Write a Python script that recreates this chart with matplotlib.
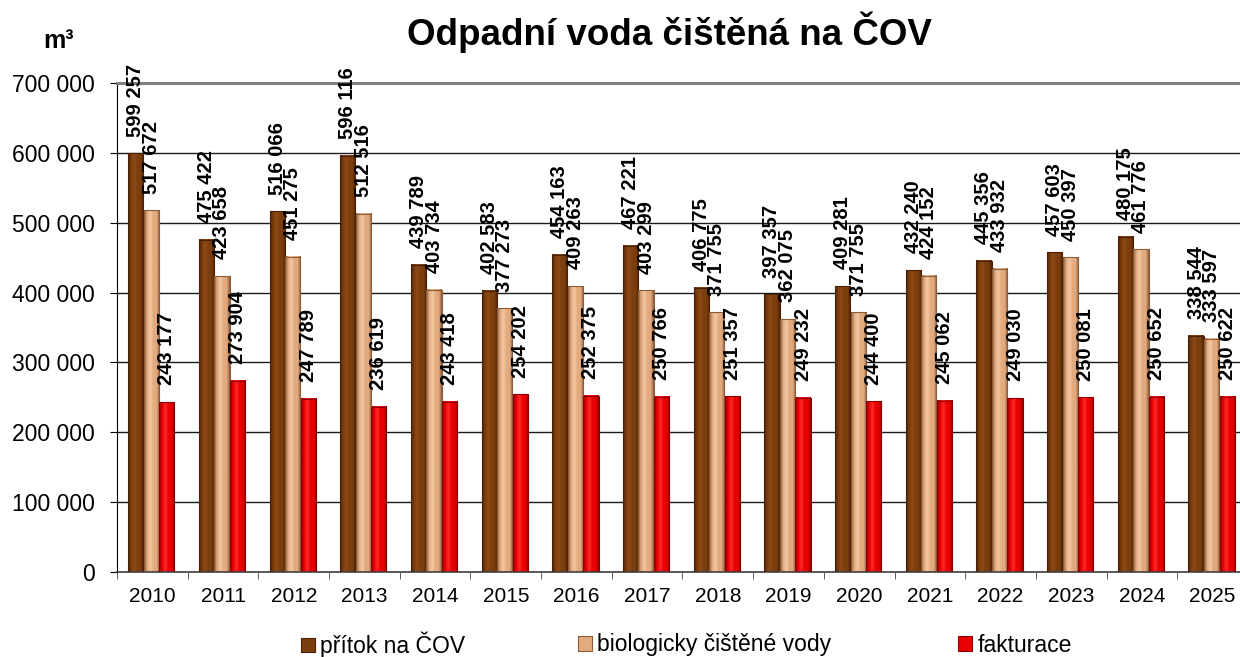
import numpy as np
import matplotlib
matplotlib.use('Agg')
import matplotlib.pyplot as plt
from matplotlib.colors import LinearSegmentedColormap
from matplotlib.patches import Patch

plt.rcParams['font.family'] = ['Liberation Sans', 'DejaVu Sans']

years = [str(y) for y in range(2010, 2026)]
pritok = [599257, 475422, 516066, 596116, 439789, 402583, 454163, 467221,
          406775, 397357, 409281, 432240, 445356, 457603, 480175, 338544]
bio = [517672, 423658, 451275, 512516, 403734, 377273, 409263, 403299,
       371755, 362075, 371755, 424152, 433932, 450397, 461776, 333597]
fakt = [243177, 273904, 247789, 236619, 243418, 254202, 252375, 250766,
        251357, 249232, 244400, 245062, 249030, 250081, 250652, 250622]
series_names = ['přítok na ČOV', 'biologicky čištěné vody', 'fakturace']
yticks = [0, 100000, 200000, 300000, 400000, 500000, 600000, 700000]

# colours: (dark edge, main, light)
styles = [
    ('#4a2006', '#7b3e0e', '#8e4a16'),
    ('#8a5c3a', '#e2aa7e', '#f3c9a2'),
    ('#8c0000', '#e80000', '#ff2a2a'),
]

def fmt(v):
    return f"{v:,}".replace(',', ' ')

fig = plt.figure(figsize=(12.4, 6.57), dpi=100)
ax = fig.add_axes([117 / 1240, 85 / 657, 1131 / 1240, 489 / 657])

x = np.arange(len(years))
width = 0.215
offsets = [-0.235, -0.015, 0.205]
data = [pritok, bio, fakt]

grad = np.linspace(0, 1, 128).reshape(1, -1)
for vals, off, (dk, mn, lt) in zip(data, offsets, styles):
    bars = ax.bar(x + off, vals, width, color=mn, edgecolor=dk, linewidth=0.8, zorder=2)
    cmap = LinearSegmentedColormap.from_list('g', [dk, mn, lt, mn, mn, dk])
    for b in bars:
        x0, w, h = b.get_x(), b.get_width(), b.get_height()
        ax.imshow(grad, cmap=cmap, extent=(x0, x0 + w, 0, h), aspect='auto',
                  interpolation='bilinear', zorder=2.5)
        b.set_facecolor('none')
        b.set_zorder(3)
    for b, v in zip(bars, vals):
        ax.annotate(fmt(v), xy=(b.get_x() + b.get_width() / 2, b.get_height()),
                    xytext=(0, 12), textcoords='offset points', rotation=90,
                    ha='center', va='bottom', fontsize=14.5, fontweight='bold',
                    color='black', zorder=4, annotation_clip=False)

ax.set_xlim(-0.5, len(years) - 0.5)
ax.set_ylim(0, 700000)
ax.set_yticks(yticks)
ax.set_yticklabels([fmt(v) for v in yticks], fontsize=16.5)
ax.set_xticks(x)
ax.set_xticklabels(years, fontsize=15)
ax.set_xticks(np.arange(len(years) + 1) - 0.5, minor=True)
ax.tick_params(axis='x', which='major', length=0, pad=11)
ax.tick_params(axis='x', which='minor', length=5, direction='out', color='#404040')
ax.tick_params(axis='y', length=5, direction='out', pad=11, color='black')

ax.set_axisbelow(True)
ax.yaxis.grid(True, color='#1a1a1a', linewidth=1.0, zorder=0)
ax.spines['right'].set_visible(False)
ax.spines['top'].set_color('#808080')
ax.spines['top'].set_linewidth(2.2)
ax.spines['left'].set_color('black')
ax.spines['bottom'].set_color('#404040')
ax.spines['bottom'].set_linewidth(1.2)

fig.text(669 / 1240, 1 - 45 / 657, 'Odpadní voda čištěná na ČOV', ha='center',
         va='baseline', fontsize=26.5, fontweight='bold')
fig.text(43 / 1240, 1 - 48 / 657, 'm³', ha='left', va='baseline',
         fontsize=18, fontweight='bold')

legend_x = [301, 578, 958]
for name, (dk, mn, lt), lx in zip(series_names, styles, legend_x):
    fig.legend(handles=[Patch(facecolor=mn, edgecolor=dk, linewidth=0.8)],
               labels=[name], loc='center left',
               bbox_to_anchor=(lx / 1240, 1 - 645 / 657), frameon=False,
               fontsize=16.5, handlelength=0.6, handleheight=0.6,
               handletextpad=0.25, borderpad=0, borderaxespad=0)

fig.savefig('out.png', dpi=100)
